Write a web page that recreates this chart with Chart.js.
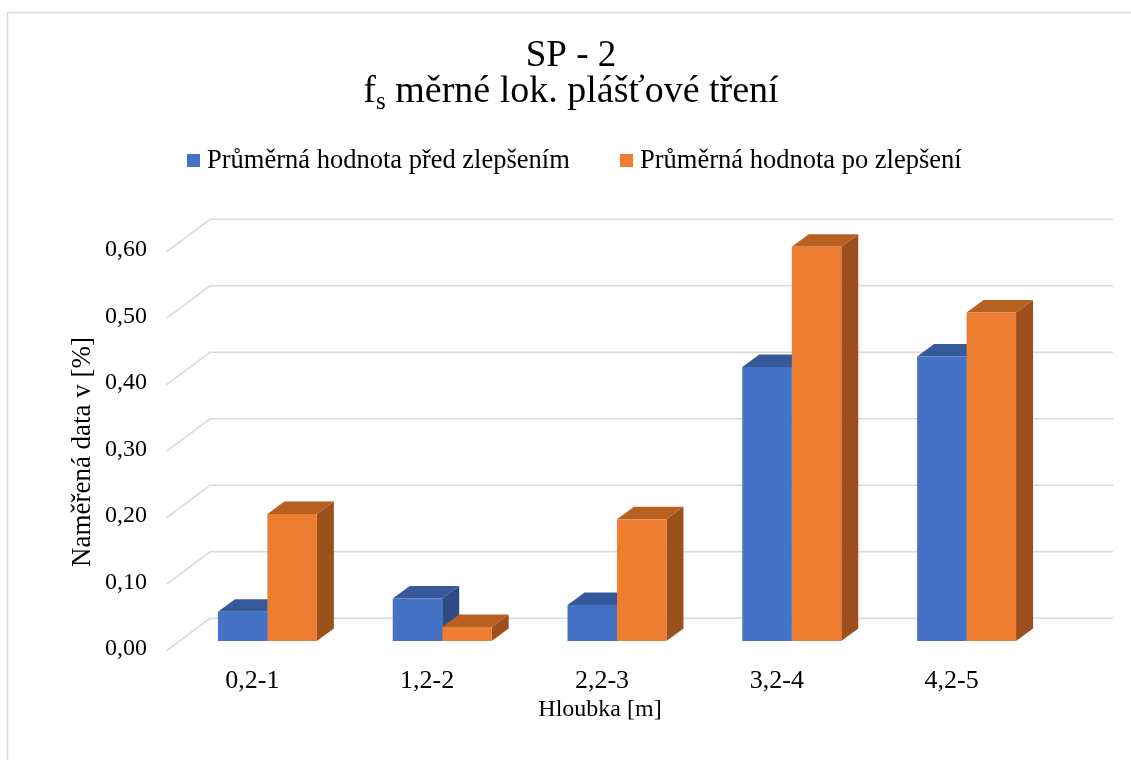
<!DOCTYPE html>
<html lang="cs">
<head>
<meta charset="utf-8">
<title>SP - 2</title>
<script src="https://cdn.jsdelivr.net/npm/chart.js@4.4.1/dist/chart.umd.min.js"></script>
<style>
  html, body { margin: 0; padding: 0; background: #fff; }
  #wrap { width: 1131px; height: 760px; }
</style>
</head>
<body>
<div id="wrap"><canvas id="chart" width="1131" height="760"></canvas></div>
<script>
// --- data ---
const depths = ['0,2-1', '1,2-2', '2,2-3', '3,2-4', '4,2-5'];
const beforeValues = [0.044, 0.064, 0.054, 0.412, 0.428];
const afterValues = [0.191, 0.021, 0.183, 0.593, 0.494];
const yTicks = [0, 0.1, 0.2, 0.3, 0.4, 0.5, 0.6];
const seriesNames = ['Průměrná hodnota před zlepšením', 'Průměrná hodnota po zlepšení'];

const FONT = '"Liberation Serif", "Times New Roman", serif';
const BLUE = { front: '#4472c4', top: '#36599b', side: '#2e4d86' };
const ORANGE = { front: '#ed7d31', top: '#b85f22', side: '#9b501d' };

// fake 3D: bar depth and floor/back wall offsets from the bar front plane
const BAR_DX = 17, BAR_DY = 12.5;
const WALL_BACK_DX = 30, WALL_BACK_DY = -22.7;
const WALL_FRONT_DX = -13.3, WALL_FRONT_DY = 9.7;

const fmt = v => v.toFixed(2).replace('.', ',');

// walls, gridlines, axis text, title and legend
const frame = {
    id: 'frame',
    beforeDraw(chart) {
        const { ctx, chartArea: ca, scales } = chart;
        const y = scales.y, x = scales.x;
        ctx.save();
        ctx.fillStyle = '#fff';
        ctx.fillRect(0, 0, chart.width, chart.height);

        // outer border
        ctx.strokeStyle = '#d9d9d9';
        ctx.lineWidth = 1.5;
        ctx.strokeRect(7.5, 12.5, chart.width + 20, chart.height + 20);

        // gridlines: left wall diagonal + back wall horizontal
        ctx.strokeStyle = '#d9d9d9';
        ctx.lineWidth = 1.6;
        yTicks.forEach(v => {
            const py = y.getPixelForValue(v);
            ctx.beginPath();
            ctx.moveTo(ca.left + WALL_FRONT_DX, py + WALL_FRONT_DY);
            ctx.lineTo(ca.left + WALL_BACK_DX, py + WALL_BACK_DY);
            ctx.lineTo(ca.right + 59, py + WALL_BACK_DY);
            ctx.stroke();
        });

        // y tick labels
        ctx.fillStyle = '#000';
        ctx.font = '24px ' + FONT;
        ctx.textAlign = 'right';
        ctx.textBaseline = 'middle';
        yTicks.forEach(v => {
            ctx.fillText(fmt(v), ca.left - 33, y.getPixelForValue(v) + 8);
        });

        // x tick labels sit on the front edge of the floor
        ctx.textAlign = 'center';
        ctx.font = '26px ' + FONT;
        depths.forEach((d, i) => {
            ctx.fillText(d, x.getPixelForValue(i) - 15, 681);
        });

        // axis titles
        ctx.font = '24px ' + FONT;
        ctx.fillText('Hloubka [m]', 600, 710);
        ctx.save();
        ctx.translate(83, 452);
        ctx.rotate(-Math.PI / 2);
        ctx.font = '27px ' + FONT;
        ctx.fillText('Naměřená data v [%]', 0, 0);
        ctx.restore();

        // title, second line has a subscript
        const cx = 571;
        ctx.textBaseline = 'alphabetic';
        ctx.font = '37px ' + FONT;
        ctx.fillText('SP - 2', cx, 66);
        const a = 'f', sub = 's', rest = ' měrné lok. plášťové tření';
        ctx.font = '38px ' + FONT;
        const wa = ctx.measureText(a).width, wr = ctx.measureText(rest).width;
        ctx.font = '25px ' + FONT;
        const ws = ctx.measureText(sub).width;
        const tx = cx - (wa + ws + wr) / 2;
        ctx.textAlign = 'left';
        ctx.font = '38px ' + FONT;
        ctx.fillText(a, tx, 102);
        ctx.font = '25px ' + FONT;
        ctx.fillText(sub, tx + wa, 109);
        ctx.font = '38px ' + FONT;
        ctx.fillText(rest, tx + wa + ws, 102);

        // legend
        ctx.font = '26.5px ' + FONT;
        ctx.textBaseline = 'middle';
        const legendX = [187, 620];
        chart.data.datasets.forEach((ds, i) => {
            ctx.fillStyle = ds.backgroundColor;
            ctx.fillRect(legendX[i], 154, 13, 13);
            ctx.fillStyle = '#000';
            ctx.fillText(ds.label, legendX[i] + 20, 161);
        });
        ctx.restore();
    }
};

// top and side faces of each bar, painted before the front faces
const bars3d = {
    id: 'bars3d',
    beforeDatasetsDraw(chart) {
        const { ctx } = chart;
        const shades = [BLUE, ORANGE];
        ctx.save();
        depths.forEach((_, j) => {
            chart.data.datasets.forEach((ds, i) => {
                const el = chart.getDatasetMeta(i).data[j];
                const l = el.x - el.width / 2, r = el.x + el.width / 2;
                const t = el.y, b = el.base;
                // side
                ctx.fillStyle = shades[i].side;
                ctx.beginPath();
                ctx.moveTo(r, t);
                ctx.lineTo(r + BAR_DX, t - BAR_DY);
                ctx.lineTo(r + BAR_DX, b - BAR_DY);
                ctx.lineTo(r, b);
                ctx.closePath();
                ctx.fill();
                // top
                ctx.fillStyle = shades[i].top;
                ctx.beginPath();
                ctx.moveTo(l, t);
                ctx.lineTo(l + BAR_DX, t - BAR_DY);
                ctx.lineTo(r + BAR_DX, t - BAR_DY);
                ctx.lineTo(r, t);
                ctx.closePath();
                ctx.fill();
            });
        });
        ctx.restore();
    }
};

new Chart(document.getElementById('chart'), {
    type: 'bar',
    data: {
        labels: depths,
        datasets: [
            { label: seriesNames[0], data: beforeValues, backgroundColor: BLUE.front },
            { label: seriesNames[1], data: afterValues, backgroundColor: ORANGE.front }
        ]
    },
    options: {
        responsive: false,
        animation: false,
        layout: { padding: { left: 180, right: 77, top: 242, bottom: 119 } },
        datasets: { bar: { categoryPercentage: 0.566, barPercentage: 1, borderWidth: 0 } },
        plugins: { legend: { display: false }, title: { display: false }, tooltip: { enabled: false } },
        scales: {
            x: { display: false },
            y: { display: false, min: 0, max: 0.6 }
        }
    },
    plugins: [frame, bars3d]
});
</script>
</body>
</html>
